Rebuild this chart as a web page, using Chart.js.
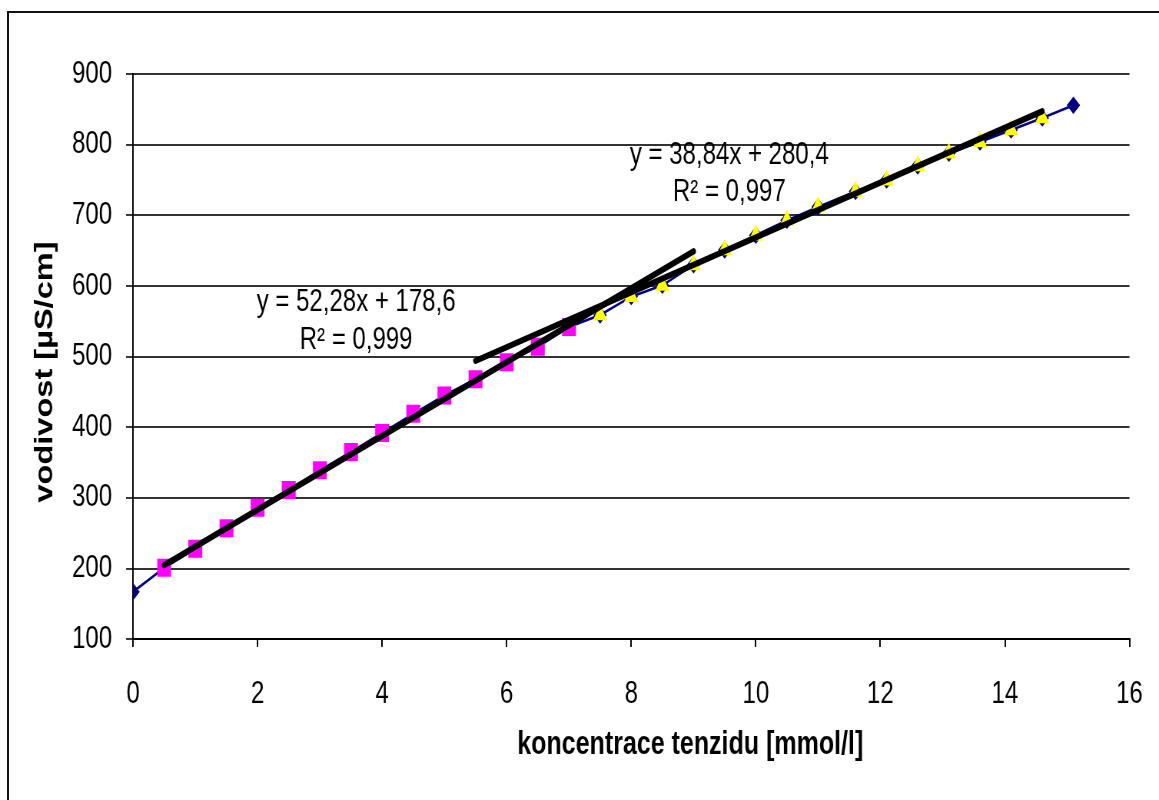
<!DOCTYPE html>
<html>
<head>
<meta charset="utf-8">
<script src="https://cdn.jsdelivr.net/npm/chart.js@4"></script>
<style>
  html, body { margin: 0; padding: 0; background: #fff; overflow: hidden; }
  #wrap { position: relative; width: 1159px; height: 800px; }
  #frame { position: absolute; left: 7px; top: 11px; right: -20px; bottom: -20px;
           border-top: 2px solid #111; border-left: 2px solid #111; pointer-events: none; }
  #c { position: absolute; left: 0; top: 0; }
</style>
</head>
<body>
<div id="wrap">
  <canvas id="c" width="1159" height="615" style="width:1159px;height:800px"></canvas>
  <div id="frame"></div>
</div>
<script>
// --- data ---
const concentration = [0, 0.5, 1, 1.5, 2, 2.5, 3, 3.5, 4, 4.5, 5, 5.5, 6, 6.5, 7,
                       7.5, 8, 8.5, 9, 9.5, 10, 10.5, 11,
                       11.6, 12.1, 12.6, 13.1, 13.6, 14.1, 14.6, 15.1];
const conductivity = [167, 201, 228, 257, 286, 311, 339, 365, 392, 419, 445, 468, 492, 514, 542,
                      559, 585, 601, 630, 651, 672, 693, 712,
                      734, 750, 770, 788, 804, 821, 838, 856];
const squareRange = [1, 14];     // points below the break (pink squares)
const triangleRange = [15, 29];  // points above the break (yellow triangles)

const fitLowCoef = [52.28, 178.6];
const fitLowSpan = [0.5, 9];
const fitHighCoef = [38.84, 280.4];
const fitHighSpan = [5.5, 14.6];
const fitLowText = ['y = 52,28x + 178,6', 'R² = 0,999'];
const fitHighText = ['y = 38,84x + 280,4', 'R² = 0,997'];

const xTitle = 'koncentrace tenzidu [mmol/l]';
const yTitle = 'vodivost [µS/cm]';

// the original picture is stretched vertically, draw at 615 high and scale to 800
const STRETCH = 800.5 / 615;
const FONT = '"Liberation Sans", Arial, sans-serif';

function pts(from, to) {
    const out = [];
    for (let i = from; i <= to; i++) out.push({ x: concentration[i], y: conductivity[i] });
    return out;
}

function fitLine(coef, span) {
    return span.map(x => ({ x: x, y: coef[0] * x + coef[1] }));
}

const textPlugin = {
    id: 'texts',
    afterDraw(chart) {
        const ctx = chart.ctx;
        const sy = v => v / STRETCH;
        ctx.save();
        ctx.fillStyle = '#000';
        ctx.textAlign = 'center';
        ctx.textBaseline = 'middle';
        ctx.font = '24px ' + FONT;
        ctx.fillText(fitLowText[0], 356, sy(302));
        ctx.fillText(fitLowText[1], 356, sy(340));
        ctx.fillText(fitHighText[0], 729, sy(155));
        ctx.fillText(fitHighText[1], 729, sy(192));

        ctx.font = 'bold 25px ' + FONT;
        ctx.fillText(xTitle, 690, sy(745));
        ctx.translate(45, sy(372));
        ctx.rotate(-Math.PI / 2);
        ctx.fillText(yTitle, 0, 0);
        ctx.restore();
    }
};

new Chart(document.getElementById('c'), {
    type: 'scatter',
    data: {
        datasets: [
            { data: fitLine(fitLowCoef, fitLowSpan), showLine: true, borderColor: '#000', borderWidth: 4.8,
              borderCapStyle: 'round', pointRadius: 0, order: 0 },
            { data: fitLine(fitHighCoef, fitHighSpan), showLine: true, borderColor: '#000', borderWidth: 4.8,
              borderCapStyle: 'round', pointRadius: 0, order: 0 },
            { data: pts(squareRange[0], squareRange[1]), pointStyle: 'rect', pointRadius: 9.8,
              backgroundColor: '#ff00ff', borderColor: '#ff00ff', borderWidth: 0, order: 1 },
            { data: pts(triangleRange[0], triangleRange[1]), pointStyle: 'triangle', pointRadius: 8.2,
              backgroundColor: '#ffff00', borderColor: '#ffff00', borderWidth: 0, order: 1 },
            { data: pts(0, concentration.length - 1), showLine: true, borderColor: '#000080', borderWidth: 2,
              pointStyle: 'rectRot', pointRadius: 6, pointBorderWidth: 1,
              pointBackgroundColor: '#000080', pointBorderColor: '#000080', order: 2 }
        ]
    },
    options: {
        responsive: false,
        devicePixelRatio: STRETCH,
        animation: false,
        layout: { padding: { top: 57, right: 30, bottom: 0, left: 0 } },
        plugins: { legend: { display: false }, tooltip: { enabled: false } },
        scales: {
            x: {
                type: 'linear', min: 0, max: 16,
                afterFit: s => { s.height = 124; s.paddingLeft = 0; s.paddingRight = 0; },
                ticks: { stepSize: 2, color: '#000', padding: 22, font: { size: 24, family: FONT } },
                grid: { drawOnChartArea: false, tickLength: 6, color: '#000', lineWidth: 1.5 },
                border: { color: '#000', width: 1.5 }
            },
            y: {
                min: 100, max: 900,
                afterFit: s => { s.width = 133; },
                ticks: { stepSize: 100, color: '#000', padding: 14, font: { size: 24, family: FONT } },
                grid: { color: '#333', lineWidth: 1.5, tickLength: 7 },
                border: { color: '#000', width: 1.5 }
            }
        }
    },
    plugins: [textPlugin]
});
</script>
</body>
</html>
